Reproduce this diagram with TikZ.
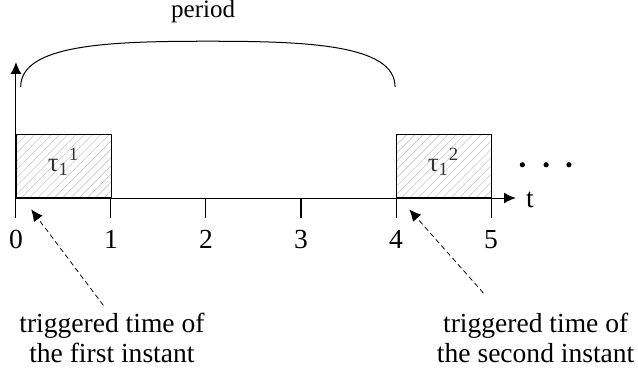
\documentclass[tikz,border=0pt]{standalone}
\usepackage{fontspec}
\setmainfont{Liberation Serif}
\usepackage{tikz}
\usetikzlibrary{arrows.meta,positioning,patterns.meta}
\definecolor{hatchgray}{HTML}{C8C8C8}
\definecolor{jobtext}{HTML}{333333}

\begin{document}
\begin{tikzpicture}[x=2cm,y=2cm,line width=0.6pt,
  txt/.style={font=\fontsize{16.5pt}{18pt}\selectfont,inner sep=0pt},
  note/.style={txt,align=center},
  job/.style={draw,anchor=south west,minimum width=2cm,minimum height=1.33cm,inner sep=0pt,
    pattern={Lines[angle=45,distance=3.5pt,line width=0.35pt]},pattern color=hatchgray},
  joblab/.style={font=\fontsize{16pt}{18pt}\selectfont,text=jobtext,inner sep=0pt},
  dot/.style={circle,fill,inner sep=0pt,minimum size=0.11cm},
  >={Latex[length=7pt,width=6.5pt]}]
  \useasboundingbox (-0.168,-1.874) rectangle (6.547,2.084);
  \coordinate (o) at (0,0);
  % jobs
  \node[job] (job1) at (0,0) {};
  \node[job] (job2) at (4,0) {};
  \node[joblab] (lab1) at (0.5,0.38) {τ\textsubscript{1}\textsuperscript{1}};
  \node[joblab] (lab2) at (4.5,0.38) {τ\textsubscript{1}\textsuperscript{2}};
  % axes
  \draw[->] (o) -- (5.26,0) coordinate (tend);
  \draw[->] (o) -- (0,1.43) coordinate (vend);
  \node[txt] (t) at (5.41,-0.02) {t};
  \foreach \i in {0,...,5} {
    \draw (\i,0) -- (\i,-0.21);
    \node[txt] (n\i) at (\i,-0.44) {\i};
  }
  \foreach \x [count=\k] in {5.33,5.58,5.82}
    \node[dot] (d\k) at (\x,0.35) {};
  % period arc
  \coordinate (pl) at (0.05,1.17);
  \coordinate (pr) at (3.99,1.17);
  \draw (pl) .. controls (0.05,1.62) and (1.0,1.65) .. (2.02,1.65)
             .. controls (3.04,1.65) and (3.99,1.62) .. (pr);
  \node[txt,font=\fontsize{15pt}{17pt}\selectfont] (period) at (1.97,1.96) {period};
  % trigger notes
  \node[note] (first) at (1.01,-1.47) {triggered time of\\the first instant};
  \node[note] (second) at (5.47,-1.47) {triggered time of\\the second instant};
  \coordinate (tail1) at (0.92,-1.13);
  \coordinate (tail2) at (4.92,-1.0);
  \coordinate (tip1) at (0.16,-0.12);
  \coordinate (tip2) at (4.14,-0.12);
  \draw[->,dashed,line width=0.45pt,dash pattern=on 3pt off 2pt] (tail1) -- (tip1);
  \draw[->,dashed,line width=0.45pt,dash pattern=on 3pt off 2pt] (tail2) -- (tip2);
\end{tikzpicture}
\end{document}
